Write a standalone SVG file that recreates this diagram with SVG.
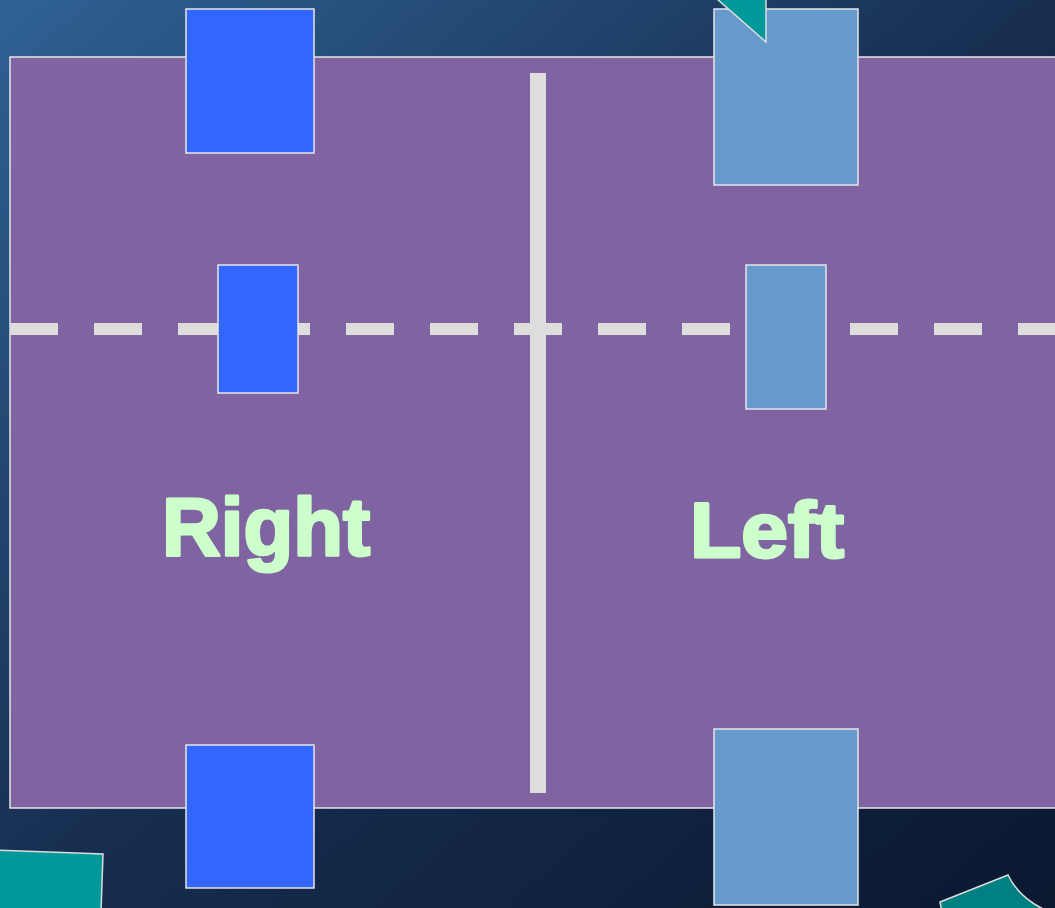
<svg xmlns="http://www.w3.org/2000/svg" width="1055" height="908" viewBox="0 0 1055 908">
<style>
.blue{fill:#3366ff;stroke:#e6e6e6;stroke-width:1.5}
.steel{fill:#6699cc;stroke:#e6e6e6;stroke-width:1.5}
.teal{fill:#009999;stroke:#dddddd;stroke-width:1.5}
.lbl{font-family:"Liberation Sans",Arial,sans-serif;font-weight:bold;fill:#ccffcc;stroke:#ccffcc;stroke-width:3;stroke-linejoin:round}
</style>
<defs>
<linearGradient id="bg" x1="0" y1="0" x2="1" y2="1">
<stop offset="0" stop-color="#2f6294"/>
<stop offset="0.5" stop-color="#172e50"/>
<stop offset="1" stop-color="#0a1830"/>
</linearGradient>
</defs>
<rect width="1055" height="908" fill="url(#bg)"/>
<g id="field">
<rect x="10" y="57" width="1060" height="751" fill="#8064a2" stroke="#e6e6e6" stroke-width="1.5"/>
</g>
<g id="connectors">
<line x1="10" y1="329" x2="1055" y2="329" stroke="#dddddd" stroke-width="12" stroke-dasharray="48 36"/>
<line x1="538" y1="73" x2="538" y2="793" stroke="#dddddd" stroke-width="16"/>
</g>
<g id="r-top"><rect class="blue" x="186" y="9" width="128" height="144"/></g>
<g id="r-mid"><rect class="blue" x="218" y="265" width="80" height="128"/></g>
<g id="r-bot"><rect class="blue" x="186" y="745" width="128" height="143"/></g>
<g id="l-top"><rect class="steel" x="714" y="9" width="144" height="176"/></g>
<g id="teal-top"><polygon class="teal" points="717,-1 766,-1 766,42"/></g>
<g id="l-mid"><rect class="steel" x="746" y="265" width="80" height="144"/></g>
<g id="l-bot"><rect class="steel" x="714" y="729" width="144" height="176"/></g>
<g id="teal-bl"><polygon class="teal" points="-5,850 103,854 101,912 -5,912"/></g>
<g id="teal-br"><path d="M940,902 L1008,875 Q1020,900 1050,912 L942,912 Z" fill="#008080" stroke="#dddddd" stroke-width="1.5"/></g>
<g id="label-right"><text class="lbl" x="162" y="555" font-size="82" textLength="208" lengthAdjust="spacingAndGlyphs">Right</text></g>
<g id="label-left"><text class="lbl" x="690" y="557" font-size="78" textLength="154" lengthAdjust="spacingAndGlyphs">Left</text></g>
</svg>
